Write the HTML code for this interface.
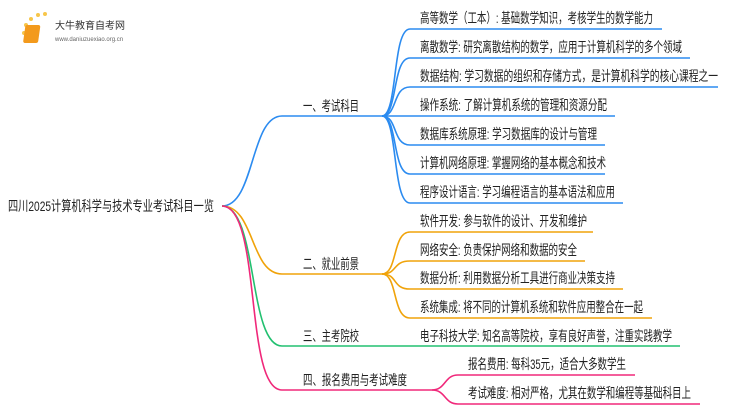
<!DOCTYPE html>
<html><head><meta charset="utf-8"><style>
body{margin:0;background:#fff;width:750px;height:410px;overflow:hidden;position:relative;font-family:"Liberation Sans","Noto Sans CJK SC",sans-serif;}
svg{position:absolute;left:0;top:0}
</style></head><body>
<svg width="750" height="410" viewBox="0 0 750 410" xmlns="http://www.w3.org/2000/svg" font-family="Liberation Sans, Noto Sans CJK SC, sans-serif" font-size="14" fill="#222">
<g>
<circle cx="26" cy="25" r="2" fill="#f7c64a"/><circle cx="31" cy="19" r="2" fill="#f7c64a"/><circle cx="38" cy="15" r="2" fill="#f7c64a"/><circle cx="45" cy="14" r="2" fill="#f7c64a"/><circle cx="24" cy="33" r="2" fill="#f7c64a"/><circle cx="25" cy="41" r="1.5" fill="#f7c64a"/>
<rect x="29" y="25" width="15" height="18" rx="2" fill="#f39a1c" transform="skewX(-8)"/>
<text x="55" y="29" font-size="10" fill="#333">大牛教育自考网</text>
<text x="55" y="41" font-size="6" fill="#666">www.daniuzuexiao.org.cn</text>
</g>
<text x="8" y="211" textLength="206" lengthAdjust="spacingAndGlyphs">四川2025计算机科学与技术专业考试科目一览</text>
<g fill="none" stroke-width="1.6">
<g stroke="#2b8bf0">
<path d="M222,206 C255,206 250,116 282,116 L382,116"/>
<path d="M382,116 C398,116 392,29 410,29 L662,29"/>
<path d="M382,116 C398,116 392,58 410,58 L690,58"/>
<path d="M382,116 C398,116 392,87 410,87 L718,87"/>
<path d="M382,116 L615,116"/>
<path d="M382,116 C398,116 392,145 410,145 L605,145"/>
<path d="M382,116 C398,116 392,174 410,174 L605,174"/>
<path d="M382,116 C398,116 392,203 410,203 L623,203"/>
</g>
<g stroke="#f0a30a">
<path d="M222,206 C255,206 250,274 282,274 L382,274"/>
<path d="M382,274 C398,274 392,232 410,232 L593,232"/>
<path d="M382,274 C398,274 392,261 410,261 L585,261"/>
<path d="M382,274 C398,274 392,289 410,289 L623,289"/>
<path d="M382,274 C398,274 392,318 410,318 L652,318"/>
</g>
<path stroke="#22c070" d="M222,206 C258,206 248,346 282,346 L680,346"/>
<g stroke="#f0287a">
<path d="M222,206 C262,206 244,390 282,390 L432,390"/>
<path d="M432,390 C446,390 444,375 458,375 L635,375"/>
<path d="M432,390 C446,390 444,404 458,404 L700,404"/>
</g>
</g>
<g>
<text x="303" y="111" textLength="56" lengthAdjust="spacingAndGlyphs">一、考试科目</text>
<text x="420" y="23" textLength="233" lengthAdjust="spacingAndGlyphs">高等数学（工本）: 基础数学知识，考核学生的数学能力</text>
<text x="420" y="52" textLength="262" lengthAdjust="spacingAndGlyphs">离散数学: 研究离散结构的数学，应用于计算机科学的多个领域</text>
<text x="420" y="81" textLength="298" lengthAdjust="spacingAndGlyphs">数据结构: 学习数据的组织和存储方式，是计算机科学的核心课程之一</text>
<text x="420" y="110" textLength="187" lengthAdjust="spacingAndGlyphs">操作系统: 了解计算机系统的管理和资源分配</text>
<text x="420" y="139" textLength="177" lengthAdjust="spacingAndGlyphs">数据库系统原理: 学习数据库的设计与管理</text>
<text x="420" y="168" textLength="186" lengthAdjust="spacingAndGlyphs">计算机网络原理: 掌握网络的基本概念和技术</text>
<text x="420" y="197" textLength="195" lengthAdjust="spacingAndGlyphs">程序设计语言: 学习编程语言的基本语法和应用</text>
<text x="303" y="269" textLength="56" lengthAdjust="spacingAndGlyphs">二、就业前景</text>
<text x="420" y="226" textLength="167" lengthAdjust="spacingAndGlyphs">软件开发: 参与软件的设计、开发和维护</text>
<text x="420" y="255" textLength="157" lengthAdjust="spacingAndGlyphs">网络安全: 负责保护网络和数据的安全</text>
<text x="420" y="283" textLength="195" lengthAdjust="spacingAndGlyphs">数据分析: 利用数据分析工具进行商业决策支持</text>
<text x="420" y="312" textLength="223" lengthAdjust="spacingAndGlyphs">系统集成: 将不同的计算机系统和软件应用整合在一起</text>
<text x="303" y="341" textLength="56" lengthAdjust="spacingAndGlyphs">三、主考院校</text>
<text x="420" y="341" textLength="252" lengthAdjust="spacingAndGlyphs">电子科技大学: 知名高等院校，享有良好声誉，注重实践教学</text>
<text x="303" y="385" textLength="104" lengthAdjust="spacingAndGlyphs">四、报名费用与考试难度</text>
<text x="468" y="369" textLength="158" lengthAdjust="spacingAndGlyphs">报名费用: 每科35元，适合大多数学生</text>
<text x="468" y="398" textLength="223" lengthAdjust="spacingAndGlyphs">考试难度: 相对严格，尤其在数学和编程等基础科目上</text>
</g>
</svg>
</body></html>
